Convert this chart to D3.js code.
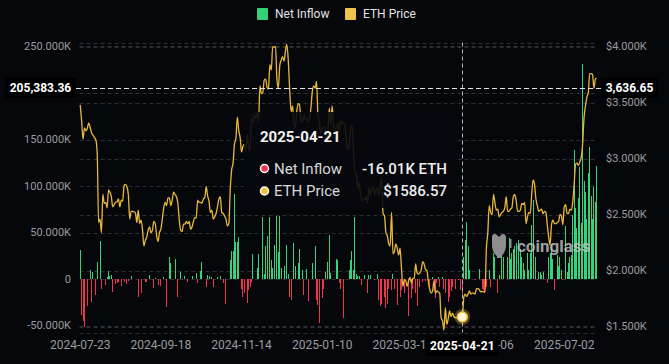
<!DOCTYPE html>
<html>
<head>
<meta charset="utf-8">
<script src="https://cdn.jsdelivr.net/npm/d3@7"></script>
<style>
  html, body { margin: 0; padding: 0; background: #06070b; }
  svg { display: block; font-family: Roboto, "Noto Sans", sans-serif; }
</style>
</head>
<body>
<svg id="chart"></svg>
<script>
const width = 669;
const height = 364;

// x axis labels, one every 57 days
const tickLabels = ["2024-07-23", "2024-09-18", "2024-11-14", "2025-01-10", "2025-03-10", "2025-05-06", "2025-07-02"];
const tickStep = 57;

// daily net inflow, thousand ETH
const netInflow = [
  31, -38, -45, -51, 0, -29, 0, 10, -24, 8,
  0, -17, 19, 0, 41, -10, 0, 0, -6, 2,
  9, 4, 5, -14, 0, -5, -4, -3, 0, -7,
  0, -3, 0, -5, -2, 0, 3, 0, 0, 0,
  0, -19, 0, -15, 0, 0, -3, -3, 0, 5,
  0, 0, -9, 1, 0, -6, 0, -7, 0, 2,
  0, -30, 0, 24, 17, 0, 0, 22, 0, -19,
  0, 8, -1, 0, 3, 0, -3, 0, 0, 4,
  0, 0, 7, -4, 0, 9, 19, 0, 0, -8,
  5, 4, 0, 2, -8, 0, 0, 2, 0, 4,
  0, -4, 0, -26, 0, 0, 21, 30, 30, 92,
  40, 40, 45, 0, -10, -19, -15, 0, -25, -11,
  -8, -3, 27, 0, 0, 12, 27, 0, 0, 67,
  6, 36, 46, 0, 67, 21, 12, 37, 0, 68,
  29, 68, 12, 0, 14, 0, 37, 6, -19, -22,
  0, 39, 14, 0, 17, 33, 0, 10, -17, 0,
  11, -23, 0, 0, 17, 0, 36, -22, -28, -47,
  0, -20, -10, 8, 0, 19, 48, 7, 0, 0,
  0, 22, 21, -4, -10, 0, -42, 0, 0, 0,
  10, 21, 30, 10, 67, 6, 4, 3, 0, -6,
  0, 5, 0, -15, 5, 5, 0, 0, -1, 0,
  6, -22, -29, -26, 0, -19, -31, -27, -10, 0,
  -12, 6, -10, 0, -28, 0, -19, -11, 0, -15,
  0, 0, -39, 0, -20, -10, 0, -15, -29, 0,
  -8, 0, -3, 0, -2, 0, -3, -8, 0, 2,
  -13, -20, -4, 2, -8, 0, 2, -10, -15, 0,
  -24, -19, -13, -8, 0, -10, 0, -1, 0, -11,
  -16.01, 24, 42, 62, 36, 10, 0, 0, 0, -1,
  0, 0, 11, 0, -10, -11, -15, -8, 0, 10,
  -8, 0, 28, 24, 0, -15, 5, 0, 26, 24,
  0, 0, 24, 44, 22, 28, 32, 36, 39, 0,
  42, 32, 24, 18, 10, 0, 28, 10, 28, 58,
  85, 0, 24, -1, 8, 8, 5, 8, 0, 0,
  -4, 24, 28, 38, 22, -11, 0, 26, 14, 24,
  10, -1, 0, 57, 8, 18, 24, 26, 69, 139,
  76, 55, 87, 120, 60, 231, 105, 94, 65, 114,
  142, 89, 65, 99, 83, 122
];

// daily ETH price, USD
const ethPrice = [
  3480, 3340, 3175, 3275, 3250, 3270, 3320, 3280, 3230,
  3210, 3190, 3170, 3050, 2430, 2460, 2340, 2680, 2600, 2610,
  2560, 2720, 2700, 2660, 2570, 2590, 2610, 2615, 2640, 2570,
  2630, 2620, 2760, 2770, 2750, 2680, 2460, 2530, 2530, 2525, 2515,
  2430, 2540, 2420, 2450, 2370, 2220, 2270, 2300, 2360, 2390,
  2340, 2360, 2440, 2420, 2310, 2260, 2340, 2370, 2460, 2560,
  2610, 2580, 2650, 2650, 2580, 2630, 2700, 2680, 2660, 2600,
  2450, 2360, 2350, 2415, 2415, 2440, 2420, 2440, 2370, 2390,
  2440, 2475, 2470, 2630, 2610, 2610, 2600, 2640, 2650, 2750,
  2670, 2620, 2520, 2540, 2460, 2480, 2510, 2570, 2640, 2660, 2520,
  2510, 2490, 2460, 2400, 2420, 2720, 2900, 2960, 3130, 3180,
  3370, 3250, 3190, 3060, 3110, 3130, 3080, 3210, 3100, 3070,
  3360, 3320, 3390, 3360, 3410, 3330, 3650, 3580, 3590, 3700,
  3710, 3640, 3620, 3840, 3790, 4000, 3995, 4000, 3710, 3630,
  3830, 3880, 3910, 3870, 3960, 4020, 3880, 3620, 3420, 3470,
  3320, 3280, 3420, 3490, 3480, 3330, 3330, 3390, 3350, 3360, 3330,
  3350, 3450, 3600, 3650, 3630, 3690, 3380, 3330, 3220, 3270,
  3280, 3270, 3140, 3220, 3450, 3300, 3470, 3310, 3220, 3280,
  3320, 3240, 3340, 3310, 3320, 3300, 3180, 3080, 3110, 3250, 3300,
  3110, 2860, 2870, 2730, 2790, 2690, 2620, 2640, 2630, 2660,
  2600, 2740, 2680, 2730, 2750, 2680, 2720, 2740, 2670, 2770,
  2820, 2510, 2490, 2340, 2310, 2240,
  2220, 2520, 2150, 2170, 2240, 2200, 2140, 2200, 2020, 1860,
  1920, 1910, 1860, 1910, 1940, 1890, 1930, 1930, 2060, 1980,
  1970, 1980, 2010, 2080, 2060, 2010, 2000, 1900, 1830, 1800, 1820,
  1910, 1800, 1820, 1810, 1800, 1580, 1550, 1470, 1670, 1520,
  1570, 1640, 1590, 1620, 1590, 1580, 1580, 1590, 1610, 1590,
  1586.57, 1760, 1790, 1770, 1790, 1820, 1790, 1800, 1800, 1790,
  1840, 1840, 1830, 1810, 1815, 1810, 1815, 2200, 2340, 2580,
  2520, 2500, 2680, 2610, 2540, 2550, 2480, 2500, 2520, 2530,
  2560, 2660, 2530, 2530, 2550, 2560, 2660, 2680, 2630, 2530, 2530,
  2540, 2600, 2590, 2610, 2420, 2480, 2520, 2510, 2680, 2810,
  2770, 2640, 2580, 2530, 2540, 2550, 2510, 2530, 2520, 2410,
  2300, 2230, 2410, 2450, 2420, 2420, 2430, 2440, 2500, 2490,
  2410, 2570, 2590, 2510, 2510, 2550, 2540, 2610, 2770, 2950,
  2960, 2940, 2970, 3010, 3130, 3370, 3470, 3550, 3590, 3760,
  3760, 3750, 3630, 3710, 3720
];

const leftTicks = [-50, 0, 50, 100, 150, 200, 250];
const rightTicks = [1500, 2000, 2500, 3000, 3500, 4000];

// hovered day and cursor read-outs
const hoverIndex = 270;
const hoverDate = "2025-04-21";
const cursorLeft = 205383.36;
const cursorRight = 3636.65;

const colors = {
  bg: "#06070b",
  green: "#36d27d",
  red: "#ee344e",
  line: "#e9b83a",
  grid: "#2c2f36",
  axis: "#9a9ca1"
};

const plot = { left: 79.5, right: 597.5, top: 42.5, bottom: 332.5 };

const svg = d3.select("#chart")
    .attr("width", width).attr("height", height);

svg.append("rect")
    .attr("width", width).attr("height", height)
    .attr("fill", colors.bg);

const x = d3.scaleBand()
    .domain(d3.range(netInflow.length))
    .range([plot.left, plot.right]);
const cx = i => x(i) + x.bandwidth() / 2;

const yLeft = d3.scaleLinear().domain([-57.1, 254.1]).range([plot.bottom, plot.top]);
const yRight = d3.scaleLinear().domain([1448, 4037]).range([plot.bottom, plot.top]);

// grid lines
const gridYs = [plot.top, plot.bottom]
    .concat(leftTicks.map(yLeft))
    .concat(rightTicks.map(yRight));
svg.append("g").selectAll("line")
    .data(gridYs)
    .enter().append("line")
    .attr("x1", plot.left).attr("x2", plot.right)
    .attr("y1", d => Math.round(d) + 0.5).attr("y2", d => Math.round(d) + 0.5)
    .attr("stroke", colors.grid)
    .attr("stroke-dasharray", "4,3");

// bars
svg.append("g")
    .attr("shape-rendering", "crispEdges")
    .selectAll("rect")
    .data(netInflow.map((v, i) => ({ v, i })).filter(d => d.v !== 0))
    .enter().append("rect")
    .attr("x", d => cx(d.i) - 0.5)
    .attr("width", 1)
    .attr("y", d => Math.min(yLeft(d.v), yLeft(0)))
    .attr("height", d => Math.abs(yLeft(d.v) - yLeft(0)))
    .attr("fill", d => d.v >= 0 ? colors.green : colors.red);

// watermark
const mark = svg.append("g").attr("opacity", 0.8);
mark.append("path")
    .attr("transform", "translate(490,233)")
    .attr("d", "M2,4 C2,1 5,0 7,2 L9,4 L11,2 C13,0 16,1 16,4 L16,12 C16,18 13,22 11,23 L11,25 L7,25 L7,23 C5,22 2,18 2,12 Z")
    .attr("fill", "#b0b0b0");
mark.append("rect")
    .attr("x", 510).attr("y", 239).attr("width", 1.5).attr("height", 9)
    .attr("fill", "#b0b0b0");
mark.append("text")
    .attr("x", 517).attr("y", 246)
    .attr("dominant-baseline", "central")
    .attr("font-size", 17).attr("font-weight", 700)
    .attr("fill", "#c4c4c4")
    .text("coinglass");

// price line
const line = d3.line()
    .x((d, i) => cx(i))
    .y(d => yRight(d))
    .curve(d3.curveMonotoneX);
svg.append("path")
    .datum(ethPrice)
    .attr("d", line)
    .attr("fill", "none")
    .attr("stroke", colors.line)
    .attr("stroke-width", 1.3);

// tooltip
const tip = svg.append("g");
tip.append("rect")
    .attr("x", 244).attr("y", 112).attr("width", 214).attr("height", 96)
    .attr("rx", 6)
    .attr("fill", "rgba(8,9,14,0.9)");
tip.append("text")
    .attr("x", 260).attr("y", 137)
    .attr("dominant-baseline", "central")
    .attr("font-size", 15).attr("font-weight", 700)
    .attr("fill", "#f2f2f2")
    .text(hoverDate);
const rows = [
  { name: "Net Inflow", color: colors.red, value: netInflow[hoverIndex].toFixed(2) + "K ETH", y: 168.5 },
  { name: "ETH Price", color: "#f0c040", value: "$" + ethPrice[hoverIndex].toFixed(2), y: 191 }
];
rows.forEach(r => {
  tip.append("circle")
      .attr("cx", 264.5).attr("cy", r.y).attr("r", 4)
      .attr("fill", r.color).attr("stroke", "#fff").attr("stroke-width", 1.5);
  tip.append("text")
      .attr("x", 274).attr("y", r.y)
      .attr("dominant-baseline", "central")
      .attr("font-size", 15).attr("fill", "#d8d8d8")
      .text(r.name);
  tip.append("text")
      .attr("x", 447).attr("y", r.y)
      .attr("dominant-baseline", "central")
      .attr("text-anchor", "end")
      .attr("font-size", 15).attr("font-weight", 500).attr("fill", "#ededed")
      .text(r.value);
});

// crosshair
const hx = cx(hoverIndex);
const hy = yLeft(cursorLeft / 1000);
svg.append("line")
    .attr("x1", Math.round(hx) + 0.5).attr("x2", Math.round(hx) + 0.5)
    .attr("y1", plot.top).attr("y2", plot.bottom)
    .attr("stroke", "#b8b8b8").attr("stroke-dasharray", "4,3");
svg.append("line")
    .attr("x1", 76).attr("x2", 601)
    .attr("y1", Math.round(hy) + 0.5).attr("y2", Math.round(hy) + 0.5)
    .attr("stroke", "#e6e6e6").attr("stroke-dasharray", "5,3");

// left axis labels (200K sits under the cursor read-out, as in the source)
svg.append("g").selectAll("text")
    .data(leftTicks.filter(d => Math.abs(yLeft(d) - hy) > 12))
    .enter().append("text")
    .attr("x", 71).attr("y", d => yLeft(d))
    .attr("text-anchor", "end")
    .attr("dominant-baseline", "central")
    .attr("font-size", 11).attr("fill", colors.axis)
    .text(d => d === 0 ? "0" : d.toFixed(3) + "K");

// right axis labels
svg.append("g").selectAll("text")
    .data(rightTicks)
    .enter().append("text")
    .attr("x", 606).attr("y", d => yRight(d))
    .attr("dominant-baseline", "central")
    .attr("font-size", 11).attr("fill", colors.axis)
    .text(d => "$" + (d / 1000).toFixed(3) + "K");

// x axis labels, clipped where the date read-out covers them
const hoverBox = { x0: cx(hoverIndex) - 36, x1: cx(hoverIndex) + 36 };
svg.append("defs").append("clipPath").attr("id", "xclip")
    .selectAll("rect")
    .data([[0, hoverBox.x0], [hoverBox.x1, width]])
    .enter().append("rect")
    .attr("x", d => d[0]).attr("y", 0)
    .attr("width", d => d[1] - d[0]).attr("height", height);
svg.append("g")
    .attr("clip-path", "url(#xclip)")
    .selectAll("text")
    .data(tickLabels)
    .enter().append("text")
    .attr("x", (d, i) => cx(i * tickStep))
    .attr("y", 345)
    .attr("text-anchor", "middle")
    .attr("dominant-baseline", "central")
    .attr("font-size", 12).attr("fill", colors.axis)
    .text(d => d);

// crosshair read-out boxes
function readout(cxPos, cyPos, w, label) {
  svg.append("rect")
      .attr("x", cxPos - w / 2).attr("y", cyPos - 10)
      .attr("width", w).attr("height", 20)
      .attr("fill", "#000");
  svg.append("text")
      .attr("x", cxPos).attr("y", cyPos)
      .attr("text-anchor", "middle")
      .attr("dominant-baseline", "central")
      .attr("font-size", 12).attr("font-weight", 700)
      .attr("fill", "#fff")
      .text(label);
}
readout(40.5, hy, 71, d3.format(",.2f")(cursorLeft));
readout(629.5, hy, 57, d3.format(",.2f")(cursorRight));
readout(hx, 346, 72, hoverDate);

// hovered point
svg.append("circle")
    .attr("cx", hx).attr("cy", yRight(ethPrice[hoverIndex]))
    .attr("r", 8).attr("fill", "rgba(240,192,64,0.3)");
svg.append("circle")
    .attr("cx", hx).attr("cy", yRight(ethPrice[hoverIndex]))
    .attr("r", 5).attr("fill", "#fff6dc")
    .attr("stroke", "#f0c040").attr("stroke-width", 1.5);

// legend
const legend = [
  { name: "Net Inflow", color: "#35cf78", x: 257 },
  { name: "ETH Price", color: "#f0c24b", x: 345 }
];
const lg = svg.append("g");
legend.forEach(l => {
  lg.append("rect")
      .attr("x", l.x).attr("y", 8).attr("width", 11).attr("height", 12)
      .attr("rx", 1).attr("fill", l.color);
  lg.append("text")
      .attr("x", l.x + 18).attr("y", 14)
      .attr("dominant-baseline", "central")
      .attr("font-size", 12).attr("fill", "#e2e2e2")
      .text(l.name);
});
</script>
</body>
</html>
